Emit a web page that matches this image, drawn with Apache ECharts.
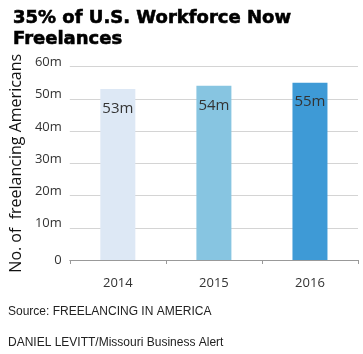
<!DOCTYPE html>
<html>
<head>
<meta charset="utf-8">
<script src="https://cdn.jsdelivr.net/npm/echarts@6/dist/echarts.min.js"></script>
<style>
html,body{margin:0;padding:0;background:#fff;}
#chart{width:363px;height:354px;}
</style>
</head>
<body>
<div id="chart"></div>
<script>
const titleText = "35% of U.S. Workforce Now\nFreelances";
const categories = ["2014", "2015", "2016"];
const values = [53, 54, 55];
const barColors = ["#dde8f5", "#87c5e1", "#3e9ad6"];
const yTicks = [0, 10, 20, 30, 40, 50, 60];
const yAxisName = "No. of  freelancing Americans";
const sourceText = "Source: FREELANCING IN AMERICA";
const creditText = "DANIEL LEVITT/Missouri Business Alert";

const chart = echarts.init(document.getElementById('chart'), null, {renderer: 'canvas'});
chart.setOption({
  animation: false,
  backgroundColor: '#fff',
  title: {
    text: titleText,
    left: 8, top: 3,
    textStyle: {fontFamily: 'DejaVu Sans', fontWeight: 'bold', fontSize: 18, lineHeight: 21, color: '#000',
      textBorderColor: '#000', textBorderWidth: 0.6}
  },
  grid: {left: 64, right: 5, top: 66.5, bottom: 94, containLabel: false},
  xAxis: {
    type: 'category',
    data: categories,
    axisLine: {lineStyle: {color: '#999', width: 1}},
    axisTick: {show: true, length: 4, lineStyle: {color: '#999'}},
    axisLabel: {fontFamily: 'Open Sans', fontSize: 13, color: '#333', margin: 17}
  },
  yAxis: {
    type: 'value',
    min: yTicks[0], max: yTicks[yTicks.length - 1], interval: 10,
    name: yAxisName,
    nameLocation: 'middle',
    nameGap: 44,
    nameTextStyle: {fontFamily: 'Open Sans', fontSize: 16, color: '#111'},
    axisLine: {show: false},
    axisTick: {show: false},
    splitLine: {lineStyle: {color: '#d4d4d4'}},
    axisLabel: {
      fontFamily: 'Open Sans', fontSize: 13, color: '#333', margin: 8,
      verticalAlign: 'middle',
      formatter: v => v === 0 ? '{z|0}' : '{m|' + v + 'm}',
      rich: {
        m: {fontFamily: 'Open Sans', fontSize: 13, color: '#333', padding: [0, 0, 8, 0]},
        z: {fontFamily: 'Open Sans', fontSize: 13, color: '#333'}
      }
    }
  },
  series: [{
    type: 'bar',
    barWidth: 35,
    data: values.map((v, i) => ({value: v, itemStyle: {color: barColors[i]}})),
    label: {
      show: true, position: 'insideTop', distance: 12,
      fontFamily: 'Open Sans', fontSize: 15, color: '#333',
      formatter: p => p.value + 'm'
    }
  }],
  graphic: [
    {type: 'text', left: 8, top: 306, style: {text: sourceText, font: '12px "Liberation Sans"', fill: '#222'}},
    {type: 'text', left: 8, top: 337, style: {text: creditText, font: '12px "Liberation Sans"', fill: '#222'}}
  ]
});
</script>
</body>
</html>
